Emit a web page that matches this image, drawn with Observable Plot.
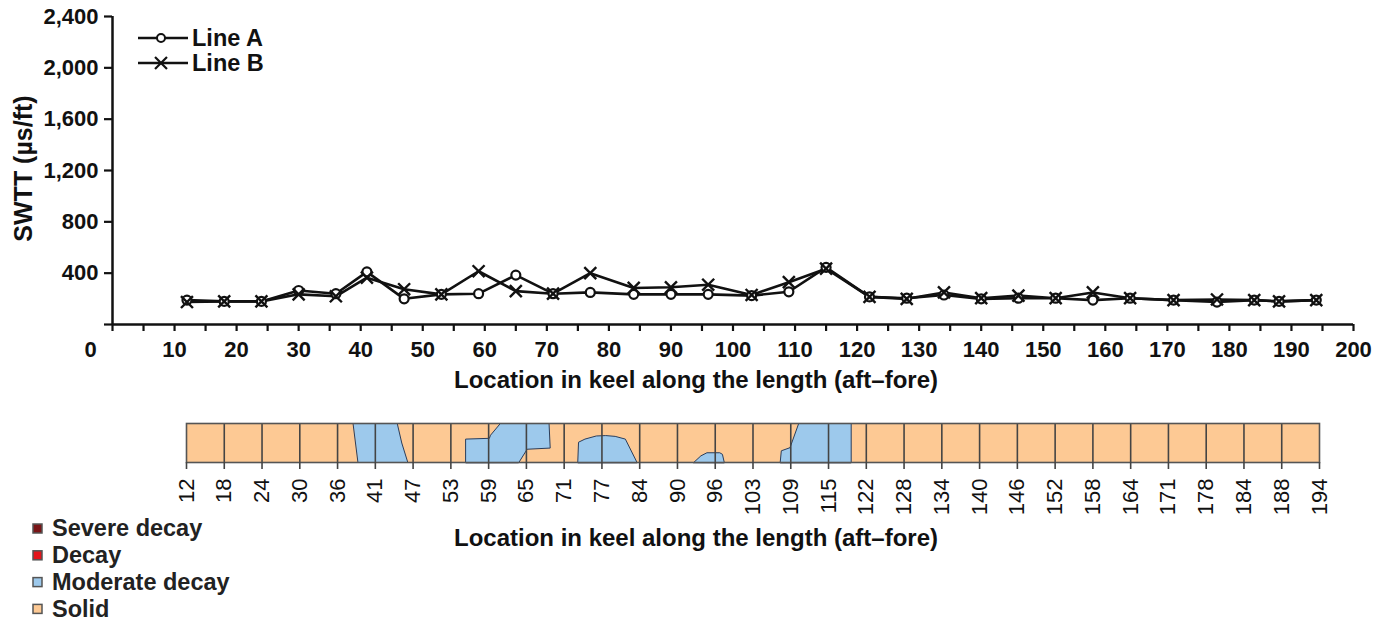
<!DOCTYPE html>
<html><head><meta charset="utf-8">
<script src="https://cdn.jsdelivr.net/npm/d3@7"></script>
<script src="https://cdn.jsdelivr.net/npm/@observablehq/plot@0.6"></script>
<style>
body{margin:0;background:#fff;font-family:"Liberation Sans",Arial,sans-serif;}
#wrap{position:relative;width:1395px;height:621px;overflow:hidden;background:#fff;}
#wrap > *{position:absolute;left:0;}
</style></head><body><div id="wrap"></div>
<script>
// ---- data ----
const locations = [12,18,24,30,36,41,47,53,59,65,71,77,84,90,96,103,109,115,122,128,134,140,146,152,158,164,171,178,184,188,194];
const lineA = [190,180,180,265,240,410,200,235,240,385,240,250,235,235,235,225,255,445,215,205,230,200,205,205,190,205,190,175,190,180,190];
const lineB = [175,180,180,235,220,365,275,235,415,260,240,400,285,290,310,230,330,435,215,200,250,205,225,205,250,205,190,195,190,180,190];
const seriesNames = ["Line A", "Line B"];
const yTickValues = [0,400,800,1200,1600,2000,2400];
const xTickLabels = [0,10,20,30,40,50,60,70,80,90,100,110,120,130,140,150,160,170,180,190,200];
const xMinorTicks = [0,5,10,15,20,25,30,35,40,45,50,55,60,65,70,75,80,85,90,95,100,105,110,115,120,125,130,135,140,145,150,155,160,165,170,175,180,185,190,195,200];
const xTitle = "Location in keel along the length (aft–fore)";
const yTitle = "SWTT (µs/ft)";
const decayClasses = ["Severe decay","Decay","Moderate decay","Solid"];
const decayColors = ["#7a1416","#e3141b","#9dc9ec","#fdc994"];
// moderate-decay zones: position in cell index units along the strip, depth as fraction of keel height
const moderateZone = [1,1,1,1,1, 2,2,2,2,2,2,2,2,2, 3,3,3,3,3,3,3,3, 4,4,4,4,4,4, 5,5,5,5,5,5];
const moderatePos = [4.42,5.58,5.70,5.86,4.55, 7.39,7.39,8.02,8.05,8.31,9.60,9.63,9.02,8.80, 10.36,10.38,10.55,10.85,11.10,11.35,11.62,11.93, 13.43,13.62,13.78,14.12,14.19,14.24, 15.72,15.75,15.98,16.21,17.60,17.60];
const moderateDepth = [1,1,0.5,0,0, 0,0.60,0.62,0.70,1,1,0.37,0.34,0, 0,0.52,0.60,0.68,0.69,0.67,0.60,0, 0,0.17,0.25,0.25,0.21,0, 0,0.30,0.38,1,1,0];

const font = '"Liberation Sans", Arial, sans-serif';
const ink = "#111";
const wrap = document.getElementById("wrap");

// ---- top chart ----
const pts = locations.flatMap((x,i)=>[{x, y: lineA[i], s: seriesNames[0]},{x, y: lineB[i], s: seriesNames[1]}]);
const p1 = Plot.plot({
  width:1395, height:400, marginLeft:112, marginRight:42, marginTop:16, marginBottom:76,
  style:{fontFamily:font, fontSize:"22px", fontWeight:"bold", color:ink, background:"transparent", overflow:"visible"},
  x:{domain:[0,200]}, y:{domain:[0,2400]},
  marks:[
    Plot.axisY({ticks:yTickValues, tickFormat:d => d===0 ? "" : d3.format(",")(d), tickSize:8, tickPadding:6, label:null, strokeWidth:2.2}),
    Plot.axisX({ticks:xMinorTicks, tickFormat:() => "", tickSize:7, label:null, strokeWidth:2.2}),
    Plot.axisX({ticks:xTickLabels.slice(1), tickSize:0, tickPadding:17, label:null}),
    Plot.axisX({ticks:xTickLabels.slice(0,1), tickSize:0, tickPadding:17, dx:-22, label:null}),
    Plot.ruleX([0], {strokeWidth:2.5, stroke:ink}),
    Plot.ruleY([0], {strokeWidth:2.5, stroke:ink}),
    Plot.line(pts, {x:"x", y:"y", z:"s", stroke:ink, strokeWidth:2.6}),
    Plot.dot(pts.filter(d=>d.s===seriesNames[0]), {x:"x", y:"y", r:4.5, fill:"white", stroke:ink, strokeWidth:2.2}),
    Plot.dot(pts.filter(d=>d.s===seriesNames[1]), {x:"x", y:"y", symbol:"times", r:5.5, stroke:ink, strokeWidth:2.4}),
    Plot.text([yTitle], {frameAnchor:"left", textAnchor:"middle", dx:-89, dy:-2, rotate:-90, fontSize:25, fontWeight:"bold"}),
    Plot.text([xTitle], {frameAnchor:"bottom", dx:-37, dy:63, fontSize:24, fontWeight:"bold"})
  ]
});
p1.style.top = "0px";
wrap.appendChild(p1);

// ---- top legend ----
const lg = d3.create("svg").attr("width",300).attr("height",80).style("top","0px").style("position","absolute");
seriesNames.forEach((name,i)=>{
  const y = 38 + i*25;
  lg.append("line").attr("x1",138).attr("x2",188).attr("y1",y).attr("y2",y).attr("stroke",ink).attr("stroke-width",2.5);
  if (i===0) lg.append("circle").attr("cx",161).attr("cy",y).attr("r",4).attr("fill","white").attr("stroke",ink).attr("stroke-width",2);
  else lg.append("path").attr("d",d3.symbol(d3.symbolTimes, 95)()).attr("transform",`translate(161,${y})`).attr("stroke",ink).attr("stroke-width",2.2).attr("fill","none");
  lg.append("text").attr("x",192).attr("y",y).attr("dy","0.36em").text(name)
    .attr("font-family",font).attr("font-size",23.5).attr("font-weight","bold").attr("fill",ink);
});
wrap.appendChild(lg.node());

// ---- keel strip ----
const zones = moderateZone.map((z,i)=>({zone:z, pos:moderatePos[i], depth:moderateDepth[i]}));
const idx = d3.range(locations.length);
const p2 = Plot.plot({
  width:1395, height:221, marginLeft:186, marginRight:76, marginTop:23, marginBottom:159,
  style:{fontFamily:font, fontSize:"22px", color:ink, background:"transparent", overflow:"visible"},
  x:{domain:[0, locations.length-1]}, y:{domain:[0,1], axis:null},
  marks:[
    Plot.frame({fill:decayColors[3], stroke:null}),
    Plot.line(zones, {x:"pos", y:"depth", z:"zone", fill:decayColors[2], stroke:"#2b3d5a", strokeWidth:1, curve:"linear-closed"}),
    Plot.ruleX(idx.slice(1,-1), {stroke:"#444", strokeWidth:1.6}),
    Plot.frame({stroke:"#555", strokeWidth:1.6}),
    Plot.axisX({ticks:idx, tickFormat:i => locations[i], tickRotate:-90, tickSize:7, tickPadding:9, label:null, stroke:"#444", strokeWidth:1.6}),
    Plot.text([xTitle], {frameAnchor:"bottom", dx:-57, dy:83, fontSize:24, fontWeight:"bold"})
  ]
});
p2.style.top = "400px";
wrap.appendChild(p2);

// ---- decay legend ----
const dl = d3.create("svg").attr("width",320).attr("height",111).style("top","510px").style("position","absolute");
decayClasses.forEach((name,i)=>{
  const y = 18 + i*26.8;
  dl.append("rect").attr("x",33).attr("y",y-4).attr("width",9).attr("height",9).attr("fill",decayColors[i]).attr("stroke","#555").attr("stroke-width",1.5);
  dl.append("text").attr("x",52).attr("y",y).attr("dy","0.36em").text(name)
    .attr("font-family",font).attr("font-size",23.5).attr("font-weight","bold").attr("fill","#222");
});
wrap.appendChild(dl.node());
</script>
</body></html>
